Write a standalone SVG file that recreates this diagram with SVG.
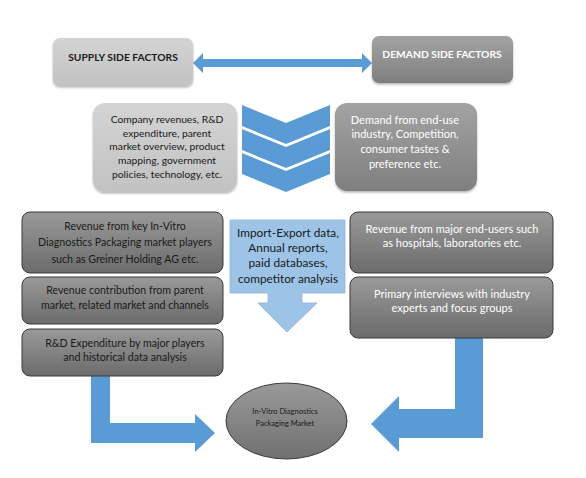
<svg xmlns="http://www.w3.org/2000/svg" width="586" height="478" viewBox="0 0 586 478">
<defs>
<linearGradient id="gLight" x1="0" y1="0" x2="0" y2="1"><stop offset="0" stop-color="#d4d4d4"/><stop offset="1" stop-color="#c2c2c2"/></linearGradient>
<linearGradient id="gMid" x1="0" y1="0" x2="0" y2="1"><stop offset="0" stop-color="#a3a3a3"/><stop offset="1" stop-color="#7f7f7f"/></linearGradient>
<linearGradient id="gDark" x1="0" y1="0" x2="0" y2="1"><stop offset="0" stop-color="#9a9a9a"/><stop offset="1" stop-color="#6b6b6b"/></linearGradient>
<linearGradient id="gEll" x1="0" y1="0" x2="0" y2="1"><stop offset="0" stop-color="#9a9a9a"/><stop offset="1" stop-color="#707070"/></linearGradient>
<filter id="sh" x="-10%" y="-10%" width="120%" height="130%"><feDropShadow dx="0" dy="1.5" stdDeviation="1.2" flood-color="#000" flood-opacity="0.3"/></filter>
</defs>
<style>
text{font-family:Lato,"Open Sans","Liberation Sans",sans-serif;text-anchor:middle}
.t{font-size:10.6px;fill:#1a1a1a}
.w{font-size:11px;fill:#ffffff}
.c{font-size:11.8px;fill:#1a1a1a}
.s{font-size:10.3px;fill:#1a1a1a}
.sw{font-size:11px;fill:#ffffff}
.h{font-size:10.3px;font-weight:bold}
.light{fill:url(#gLight);filter:url(#sh)}
.mid{fill:url(#gMid);filter:url(#sh)}
.dark{fill:url(#gDark);stroke:#3a3a3a;stroke-width:1}
.blue{fill:#5b9bd5}
</style>
<rect width="586" height="478" fill="#ffffff"/>
<g id="connectors">
<path class="blue" d="M193,63 L203,53 L203,59 L362,59 L362,53 L372,63 L362,73 L362,67 L203,67 L203,73 Z"/>
<path class="blue" d="M242,105 L286,123 L330,105 L330,126 L286,144 L242,126 Z"/>
<path class="blue" d="M242,129 L286,147 L330,129 L330,150 L286,168 L242,150 Z"/>
<path class="blue" d="M242,153 L286,171 L330,153 L330,174 L286,192 L242,174 Z"/>
<path class="blue" d="M91,376 L110,376 L110,423 L195,423 L195,414 L215,433 L195,452 L195,443 L91,443 Z"/>
<path class="blue" d="M455,338 L483,338 L483,438 L399,438 L399,452 L371,424 L399,396 L399,409 L455,409 Z"/>
</g>
<g id="supply">
<rect class="light" x="53" y="38" width="140" height="48" rx="7"/>
<text class="h" x="123" y="61" fill="#1a1a1a">SUPPLY SIDE FACTORS</text>
</g>
<g id="demand">
<rect class="mid" x="372" y="36" width="141" height="47" rx="7"/>
<text class="h" x="442" y="58" fill="#ffffff">DEMAND SIDE FACTORS</text>
</g>
<g id="supply-detail">
<rect class="light" x="93" y="103" width="144" height="89" rx="12"/>
<text class="s" x="167" y="123">Company revenues, R&amp;D</text>
<text class="s" x="167" y="137">expenditure, parent</text>
<text class="s" x="167" y="150">market overview, product</text>
<text class="s" x="167" y="164">mapping, government</text>
<text class="s" x="167" y="178">policies, technology, etc.</text>
</g>
<g id="demand-detail">
<rect class="mid" x="335" y="103" width="142" height="88" rx="12"/>
<text class="sw" x="405" y="124">Demand from end-use</text>
<text class="sw" x="405" y="138">industry, Competition,</text>
<text class="sw" x="405" y="153">consumer tastes &amp;</text>
<text class="sw" x="405" y="168">preference etc.</text>
</g>
<g id="left1">
<rect class="dark" x="22" y="212" width="201" height="61" rx="8"/>
<text class="t" x="125" y="230">Revenue from key In-Vitro</text>
<text class="t" x="125" y="246">Diagnostics Packaging market players</text>
<text class="t" x="125" y="263">such as Greiner Holding AG etc.</text>
</g>
<g id="left2">
<rect class="dark" x="22" y="277" width="201" height="47" rx="8"/>
<text class="t" x="125" y="294">Revenue contribution from parent</text>
<text class="t" x="125" y="309">market, related market and channels</text>
</g>
<g id="left3">
<rect class="dark" x="22" y="329" width="201" height="47" rx="8"/>
<text class="t" x="125" y="347">R&amp;D Expenditure by major players</text>
<text class="t" x="125" y="361">and historical data analysis</text>
</g>
<g id="center">
<path fill="#9dc3e6" stroke="#8fb4d8" stroke-width="0.8" d="M230,220 L345,220 L345,293 L302,293 L302,303 L317,303 L287,332 L258,303 L268,303 L268,293 L230,293 Z"/>
<text class="c" x="288" y="237">Import-Export data,</text>
<text class="c" x="288" y="252">Annual reports,</text>
<text class="c" x="288" y="267">paid databases,</text>
<text class="c" x="288" y="283">competitor analysis</text>
</g>
<g id="right1">
<rect class="dark" x="350" y="212" width="203" height="61" rx="8"/>
<text class="w" x="452" y="233">Revenue from major end-users such</text>
<text class="w" x="452" y="247">as hospitals, laboratories etc.</text>
</g>
<g id="right2">
<rect class="dark" x="350" y="277" width="203" height="61" rx="8"/>
<text class="w" x="452" y="298">Primary interviews with industry</text>
<text class="w" x="452" y="312">experts and focus groups</text>
</g>
<g id="market">
<ellipse cx="286.5" cy="421" rx="60.5" ry="38" fill="url(#gEll)" stroke="#3a3a3a" stroke-width="1"/>
<text x="285" y="414" style="font-size:7.5px;fill:#1a1a1a">In-Vitro Diagnostics</text>
<text x="285" y="426" style="font-size:7.5px;fill:#1a1a1a">Packaging Market</text>
</g>
</svg>
